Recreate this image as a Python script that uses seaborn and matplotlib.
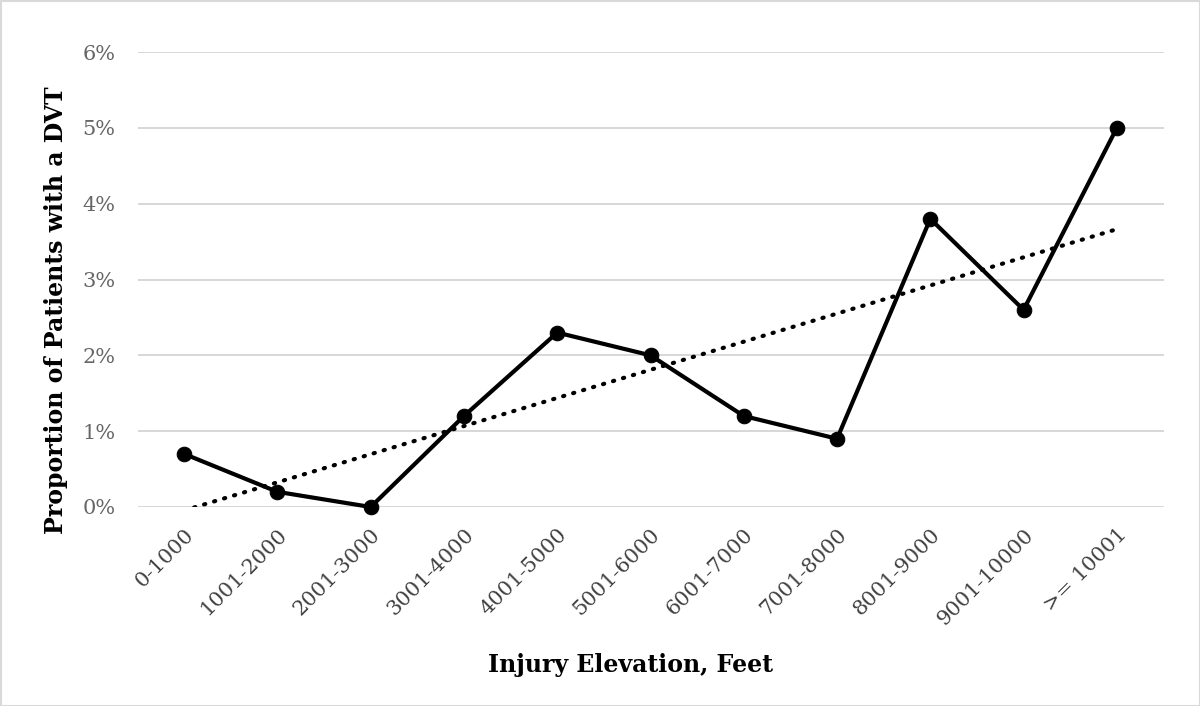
import numpy as np
import pandas as pd
import matplotlib
matplotlib.use("Agg")
import matplotlib.pyplot as plt
import seaborn as sns
from matplotlib.patches import Rectangle

categories = ["0-1000", "1001-2000", "2001-3000", "3001-4000", "4001-5000",
              "5001-6000", "6001-7000", "7001-8000", "8001-9000", "9001-10000",
              ">= 10001"]
dvt_pct = [0.7, 0.2, 0.0, 1.2, 2.3, 2.0, 1.2, 0.9, 3.8, 2.6, 5.0]
y_ticks = [0, 1, 2, 3, 4, 5, 6]
y_tick_labels = ["0%", "1%", "2%", "3%", "4%", "5%", "6%"]

sns.set_theme(style="white")
plt.rcParams["font.family"] = ["DejaVu Serif"]

df = pd.DataFrame({"pos": np.arange(len(categories)), "pct": dvt_pct})

fig = plt.figure(figsize=(12, 7.06), dpi=100)
ax = fig.add_axes([137.5 / 1200, 1 - 507 / 706, (1163.5 - 137.5) / 1200, (507 - 52) / 706])

for t in y_ticks:
    ax.axhline(t, color="#d4d4d4", lw=1.3, zorder=0)

sns.regplot(data=df, x="pos", y="pct", ax=ax, scatter=False, ci=None,
            line_kws=dict(color="black", lw=3.0, linestyle=(0, (0.3, 2.2)),
                          dash_capstyle="round"))
n_before = len(ax.lines)
sns.lineplot(data=df, x="pos", y="pct", ax=ax, color="black", lw=3,
             marker="o", markersize=10.5, markeredgecolor="black")
for ln in ax.lines[n_before:]:
    ln.set_clip_on(False)
    ln.set_zorder(5)

ax.set_xlim(-0.5, len(categories) - 0.5)
ax.set_ylim(0, 6)
ax.set_xticks(np.arange(len(categories)))
ax.set_xticklabels(categories, rotation=45, ha="right", rotation_mode="anchor",
                   fontsize=15, color="#404040")
ax.set_yticks(y_ticks)
ax.set_yticklabels(y_tick_labels, fontsize=15, color="#666666")
ax.tick_params(axis="x", length=0, pad=13)
ax.tick_params(axis="y", length=0, pad=16)
for s in ax.spines.values():
    s.set_visible(False)

ax.set_xlabel("")
ax.set_ylabel("")
fig.text(630 / 1200, 1 - 665 / 706, "Injury Elevation, Feet", ha="center", va="center",
         fontsize=17, fontweight="bold", color="black")
fig.text(56 / 1200, 1 - 310 / 706, "Proportion of Patients with a DVT", ha="center",
         va="center", rotation=90, fontsize=17, fontweight="bold", color="black")

fig.patches.append(Rectangle((0.5 / 1200, 0.5 / 706), 1 - 1 / 1200, 1 - 1 / 706,
                             transform=fig.transFigure, fill=False,
                             edgecolor="#d9d9d9", lw=1.5))

fig.savefig("out.png", dpi=100, facecolor="white")
